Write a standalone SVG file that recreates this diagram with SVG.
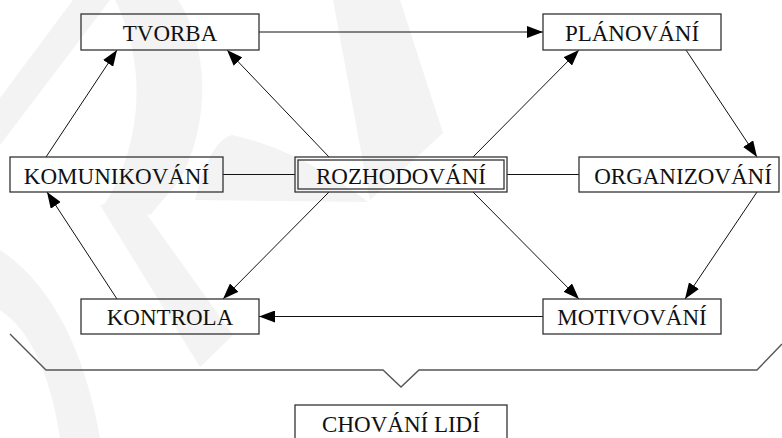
<svg xmlns="http://www.w3.org/2000/svg" width="782" height="438" viewBox="0 0 782 438">
<style>
.box{fill:none;stroke:#333;stroke-width:1.3}
.lbl{font-family:"Liberation Serif","DejaVu Serif",serif;font-size:23px;fill:#111;text-anchor:middle}
.edge{fill:none;stroke:#111;stroke-width:1}
.wm{fill:#f3f3f3;stroke:none}
</style>
<defs>
<marker id="ah" markerWidth="16" markerHeight="12" refX="16" refY="6" orient="auto" markerUnits="userSpaceOnUse">
<path d="M0,0 L16,6 L0,12 Z" fill="#000"/>
</marker>
</defs>
<rect width="782" height="438" fill="#fff"/>
<g id="watermark">
<polygon class="wm" points="333,0 400,0 443,133 370,200"/>
<path class="wm" d="M0,250 Q75,300 100,438 L60,438 Q45,340 0,310 Z"/>
<polygon class="wm" points="100,205 135,198 233,335 200,367"/>
<polygon class="wm" points="0,98 73,0 110,0 0,145"/>
<path class="wm" d="M115,0 L178,0 C208,45 212,120 180,180 L150,215 L103,207 C140,150 150,70 115,0 Z"/>
<path class="wm" d="M195,200 Q210,140 232,135 Q300,150 368,202 Z"/>
</g>
<g id="connectors">
<line class="edge" x1="259" y1="32" x2="543" y2="32" marker-end="url(#ah)"/>
<line class="edge" x1="46" y1="157" x2="117" y2="50" marker-end="url(#ah)"/>
<line class="edge" x1="329" y1="157" x2="227" y2="50" marker-end="url(#ah)"/>
<line class="edge" x1="473" y1="157" x2="579" y2="50" marker-end="url(#ah)"/>
<line class="edge" x1="686" y1="50" x2="757" y2="157" marker-end="url(#ah)"/>
<line class="edge" x1="223" y1="174.5" x2="295" y2="174.5"/>
<line class="edge" x1="507" y1="174.5" x2="579" y2="174.5"/>
<line class="edge" x1="329" y1="192" x2="223" y2="299" marker-end="url(#ah)"/>
<line class="edge" x1="117" y1="299" x2="47" y2="192" marker-end="url(#ah)"/>
<line class="edge" x1="473" y1="192" x2="579" y2="299" marker-end="url(#ah)"/>
<line class="edge" x1="757" y1="192" x2="685" y2="299" marker-end="url(#ah)"/>
<line class="edge" x1="543" y1="316.5" x2="259" y2="316.5" marker-end="url(#ah)"/>
<path d="M10,334 L46,370 L383,370 L401,387 L419,370 L757,370 L782,344" fill="none" stroke="#555" stroke-width="1.4"/>
</g>
<g id="tvorba"><rect class="box" x="81" y="14" width="178" height="36"/><text class="lbl" x="170" y="41">TVORBA</text></g>
<g id="planovani"><rect class="box" x="543" y="14" width="178" height="36"/><text class="lbl" x="632" y="41">PLÁNOVÁNÍ</text></g>
<g id="komunikovani"><rect class="box" x="10" y="157" width="213" height="35"/><text class="lbl" x="116.5" y="184">KOMUNIKOVÁNÍ</text></g>
<g id="rozhodovani"><rect class="box" x="295" y="157" width="212" height="35"/><rect class="box" x="298" y="160" width="206" height="29"/><text class="lbl" x="401" y="184">ROZHODOVÁNÍ</text></g>
<g id="organizovani"><rect class="box" x="579" y="157" width="200" height="35"/><text class="lbl" x="683" y="184">ORGANIZOVÁNÍ</text></g>
<g id="kontrola"><rect class="box" x="81" y="299" width="178" height="35"/><text class="lbl" x="170" y="325">KONTROLA</text></g>
<g id="motivovani"><rect class="box" x="543" y="299" width="178" height="35"/><text class="lbl" x="632" y="325">MOTIVOVÁNÍ</text></g>
<g id="chovani"><rect class="box" x="295" y="405" width="212" height="40"/><text class="lbl" x="401" y="432">CHOVÁNÍ LIDÍ</text></g>
</svg>
